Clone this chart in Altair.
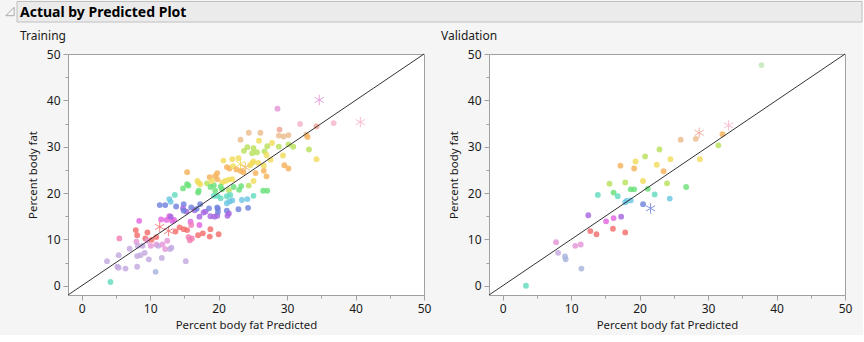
import altair as alt
import pandas as pd

FONT = "Segoe UI, Noto Sans, sans-serif"

# ---------------- data ----------------
GROUPS = ["red", "pink", "orchid", "magenta", "lavender", "grayblue", "purple", "blue",
          "cyan", "teal", "green", "yellowgreen", "yellow", "orange", "peach", "salmon",
          "lightpink", "palegreen"]
COLORS = ["#f46d6d", "#f27fb5", "#e496d8", "#e065e0", "#c3a9e0", "#a9b3dd", "#a666e0", "#6f82dc",
          "#6cc6e2", "#62dcc0", "#6ae07a", "#b8e05a", "#f0dc5a", "#f5b25a", "#ecbc8c", "#f1a295",
          "#f7b3cc", "#bfe8b5"]

train_pred = [4.2, 3.7, 5.4, 5.2, 5.4, 6.4, 5.5, 7.0, 8.1, 8.1, 8.6, 7.9, 8.1, 8.4, 8.0, 8.2, 8.9, 9.2,
              9.6, 9.8, 9.3, 9.6, 10.2, 10.1, 10.9, 11.2, 11.8, 10.9, 10.8, 11.7, 12.2, 12.9, 13.1, 12.5,
              11.6, 12.4, 12.8, 13.2, 13.5, 13.0, 13.7, 14.3, 14.9, 15.4, 15.2, 15.6, 15.8, 16.1, 15.9,
              16.0, 17.2, 17.2, 17.7, 17.0, 18.8, 18.7, 20.0, 11.4, 12.2, 12.8, 13.0, 13.6, 13.8, 14.9,
              14.8, 15.3, 14.9, 16.0, 16.5, 16.8, 17.3, 17.8, 18.1, 18.6, 19.3, 19.8, 14.8, 15.4, 15.6,
              17.0, 17.1, 19.8, 19.8, 15.4, 16.9, 17.3, 17.1, 18.7, 19.5, 19.8, 19.8, 18.3, 18.8, 19.3,
              19.0, 20.5, 19.5, 20.5, 21.0, 21.5, 22.0, 22.2, 23.3, 24.4, 20.3, 25.1, 26.5, 27.1, 23.0,
              21.5, 20.3, 21.2, 21.7, 21.2, 21.6, 22.0, 23.4, 24.2, 25.1, 19.9, 21.2, 22.9, 24.3, 19.9,
              18.8, 19.4, 21.3, 21.5, 23.2, 23.7, 24.2, 24.9, 25.1, 25.6, 26.7, 27.1, 25.9, 27.8, 28.8,
              30.2, 30.9, 33.2, 29.4, 27.0, 34.3, 27.6, 24.4, 26.1, 28.9, 28.8, 29.5, 30.2, 32.8, 33.0,
              28.6, 31.9, 34.3, 36.8, 20.7, 22.0, 22.9, 25.1, 25.8, 24.6, 24.9, 26.6, 29.6, 30.2, 21.2,
              21.6, 22.1, 22.6, 23.2, 23.6, 25.4, 26.6, 27.0]
train_act = [0.8, 5.3, 6.6, 4.1, 3.9, 3.7, 10.2, 8.0, 4.1, 6.4, 6.6, 12.0, 10.9, 14.0, 9.5, 8.6, 8.6, 7.1,
             11.5, 5.7, 10.2, 9.7, 9.9, 8.6, 8.9, 8.6, 8.9, 10.5, 3.0, 6.0, 7.9, 7.9, 8.2, 9.7,
             14.3, 14.2, 15.0, 14.0, 14.2, 14.9, 11.7, 12.6, 12.2, 12.0, 5.3, 10.5, 9.8, 10.2, 13.8,
             13.1, 14.9, 13.1, 11.3, 10.9, 12.2, 10.6, 11.1, 17.4, 17.4, 18.7, 18.1, 19.6, 17.1, 17.6,
             16.7, 16.0, 16.2, 16.9, 16.3, 16.6, 17.6, 15.8, 16.0, 16.7, 19.4, 19.4, 21.0, 21.9, 21.6,
             20.1, 20.5, 16.9, 15.1, 24.5, 22.6, 21.9, 22.2, 23.4, 23.7, 24.3, 23.0, 22.1, 21.3, 21.7,
             22.6, 20.8, 20.5, 22.3, 22.6, 22.9, 23.0, 21.3, 21.5, 21.6, 21.4, 22.6, 20.5, 20.5, 20.7,
             20.6, 18.9, 19.3, 19.6, 17.8, 18.2, 18.4, 18.5, 18.7, 19.4, 16.6, 16.2, 16.5, 16.8, 15.9,
             15.0, 14.9, 15.1, 15.6, 31.5, 29.1, 29.9, 28.6, 29.7, 28.8, 29.0, 30.1, 31.3, 30.8, 30.0,
             30.5, 30.0, 29.4, 28.1, 28.2, 27.3, 27.2, 33.0, 33.0, 33.7, 32.4, 32.2, 32.5, 32.6, 32.1,
             38.2, 34.9, 34.4, 35.1, 27.0, 27.3, 27.5, 26.8, 26.5, 26.0, 26.5, 25.9, 26.0, 25.3, 25.6,
             25.3, 25.8, 25.1, 24.8, 24.5, 24.3, 24.8, 23.6]
train_grp = ["teal", "lavender", "lavender", "lavender", "lavender", "lavender", "pink", "lavender",
             "lavender", "lavender", "lavender", "red", "red", "magenta", "orchid", "lavender", "lavender",
             "lavender", "red", "lavender", "red", "orchid", "red", "orchid", "orchid", "lavender", "orchid",
             "red", "grayblue", "lavender", "orchid", "lavender", "lavender", "orchid",
             "magenta", "magenta", "magenta", "magenta", "magenta", "purple", "red", "red", "red", "red",
             "lavender", "pink", "pink", "pink", "magenta", "pink", "purple", "magenta", "red", "red", "red",
             "red", "red", "blue", "blue", "cyan", "cyan", "teal", "blue", "blue",
             "purple", "purple", "blue", "blue", "purple", "blue", "blue", "purple", "purple", "blue", "teal",
             "teal", "green", "green", "green", "green", "green", "blue", "purple", "orange", "yellow",
             "yellow", "yellow", "orange", "orange", "orange", "orange", "yellowgreen", "green", "green",
             "yellow", "green", "green", "yellow", "yellow", "yellow", "yellow", "green", "green",
             "yellowgreen", "green", "yellow", "green", "green", "green",
             "yellowgreen", "teal", "teal", "teal", "cyan", "cyan", "cyan", "cyan", "cyan", "teal", "blue",
             "blue", "blue", "blue", "blue",
             "purple", "purple", "purple", "purple", "peach", "yellowgreen", "yellowgreen", "yellowgreen",
             "yellowgreen", "yellowgreen", "yellowgreen", "yellowgreen", "yellow", "yellow", "yellowgreen",
             "yellowgreen", "yellowgreen", "yellowgreen", "yellow", "yellow", "yellow", "yellow", "peach",
             "peach", "salmon", "peach", "peach", "peach", "peach", "orange",
             "orchid", "lightpink", "salmon", "lightpink", "yellow", "yellow", "yellow", "yellow", "yellow",
             "yellow", "yellow", "yellow", "orange", "orange", "orange",
             "orange", "yellow", "orange", "orange", "orange", "orange", "orange", "orange"]

train_star_pred = [11.4, 12.7, 23.2, 23.9, 34.7, 40.7]
train_star_act = [12.7, 11.8, 26.3, 25.5, 40.1, 35.3]
train_star_grp = ["red", "red", "yellow", "orange", "orchid", "lightpink"]

valid_pred = [3.4, 7.8, 8.1, 9.1, 9.2, 10.6, 11.4, 11.5, 12.5, 12.8, 13.7, 13.9, 15.1, 16.1, 16.2, 16.2,
              16.8, 17.3, 17.9, 17.9, 18.1, 18.7, 15.6, 17.9, 18.7, 19.2, 17.2, 19.2, 19.4, 37.8, 26.0,
              28.2, 32.1, 22.9, 31.5, 20.8, 22.5, 24.5, 28.8, 23.5, 20.5, 24.0, 26.8, 21.2, 22.2, 24.4,
              20.5]
valid_act = [0.0, 9.4, 7.1, 6.3, 5.7, 8.6, 8.9, 3.7, 15.2, 11.8, 11.1, 19.6, 13.9, 12.3, 14.6, 20.1,
             19.3, 14.9, 11.5, 18.0, 18.3, 18.4, 22.0, 22.3, 20.8, 20.8, 25.9, 25.3, 26.8, 47.6, 31.5,
             31.7, 32.7, 29.4, 30.3, 27.9, 26.1, 27.3, 27.3, 24.7, 22.6, 22.1, 21.3, 20.9, 19.7, 18.8,
             17.6]
valid_grp = ["teal", "orchid", "lavender", "grayblue", "grayblue", "orchid", "orchid", "grayblue", "purple",
             "red", "red", "teal", "magenta", "red", "magenta", "green", "teal", "purple", "red", "cyan",
             "cyan", "cyan", "yellowgreen", "yellowgreen", "green", "green", "orange", "orange", "yellow",
             "palegreen", "peach", "peach", "orange", "yellowgreen", "yellowgreen", "yellowgreen", "yellow",
             "yellow", "yellow", "orange", "yellow", "yellowgreen", "green", "green", "teal", "cyan", "blue"]

valid_star_pred = [28.7, 33.0, 21.6]
valid_star_act = [33.0, 34.6, 16.7]
valid_star_grp = ["salmon", "lightpink", "blue"]

AXIS_RANGE = [-2, 50]
TICK_VALUES = list(range(0, 51, 5))
HEADER = "Actual by Predicted Plot"
PANELS = ["Training", "Validation"]
X_TITLE = "Percent body fat Predicted"
Y_TITLE = "Percent body fat"

# ---------------- chart ----------------
ASTERISK = "M0,-1L0,1M-0.87,-0.5L0.87,0.5M-0.87,0.5L0.87,-0.5"
W, H = 356, 241

color_scale = alt.Scale(domain=GROUPS, range=COLORS)
xs = alt.Scale(domain=AXIS_RANGE, nice=False, zero=False)
ys = alt.Scale(domain=AXIS_RANGE, nice=False, zero=False)


def make_axis(title, pad):
    return alt.Axis(
        values=TICK_VALUES,
        labelExpr="datum.value % 10 === 0 ? datum.label : ''",
        tickSize={"condition": {"test": "datum.value % 10 === 0", "value": 5}, "value": 3},
        tickColor="#a0a0a0", tickWidth=1, domain=False, grid=False,
        labelFont=FONT, labelFontSize=12, labelColor="#1a1a1a", labelPadding=3,
        labelFlush=False,
        title=title, titleFont=FONT, titleFontSize=11.4, titleFontWeight="normal",
        titleColor="#1a1a1a", titlePadding=pad,
    )


def panel(px, py, pg, sx, sy, sg, title, extra=None):
    pts = pd.DataFrame({"x": px, "y": py, "g": pg})
    stars = pd.DataFrame({"x": sx, "y": sy, "g": sg})
    diag = pd.DataFrame({"x": AXIS_RANGE, "y": AXIS_RANGE})
    X = alt.X("x:Q", scale=xs, axis=make_axis(X_TITLE, 5))
    Y = alt.Y("y:Q", scale=ys, axis=make_axis(Y_TITLE, 8))
    circles = alt.Chart(pts).mark_circle(size=34, opacity=0.82).encode(
        x=X, y=Y, color=alt.Color("g:N", scale=color_scale, legend=None))
    star = alt.Chart(stars).mark_point(shape=ASTERISK, filled=False, size=110, strokeWidth=1,
                                       opacity=0.85).encode(
        x=X, y=Y, color=alt.Color("g:N", scale=color_scale, legend=None))
    line = alt.Chart(diag).mark_line(color="#333333", strokeWidth=1).encode(x=X, y=Y)
    ttl = alt.Chart(pd.DataFrame({"t": [title]})).mark_text(
        align="left", baseline="alphabetic", font=FONT, fontSize=12, color="#1a1a1a").encode(
        text="t:N", x=alt.value(-48), y=alt.value(-14))
    layers = [circles, star, line, ttl]
    if extra:
        layers = extra + layers
    return alt.layer(*layers).properties(width=W, height=H)


hdr_df = pd.DataFrame({"t": [HEADER]})
header_box = alt.Chart(hdr_df).mark_rect(fill="#ebebeb", stroke="#c0c0c0", strokeWidth=1).encode(
    x=alt.value(-51), x2=alt.value(794), y=alt.value(-52.5), y2=alt.value(-32))
header_text = alt.Chart(hdr_df).mark_text(
    align="left", baseline="alphabetic", font=FONT, fontSize=14, fontWeight="bold",
    color="#000000").encode(text="t:N", x=alt.value(-48), y=alt.value(-37))
triangle = alt.Chart(hdr_df).mark_point(
    shape="M1,-1L1,1L-1,1Z", filled=False, size=70, color="#8a8a8a", strokeWidth=1).encode(
    x=alt.value(-58), y=alt.value(-42.5))

left = panel(train_pred, train_act, train_grp, train_star_pred, train_star_act, train_star_grp,
             PANELS[0], extra=[header_box, header_text, triangle])
right = panel(valid_pred, valid_act, valid_grp, valid_star_pred, valid_star_act, valid_star_grp,
              PANELS[1])

chart = alt.hconcat(left, right, spacing=65, bounds="flush").properties(
    padding={"left": 3, "top": 0, "right": 0, "bottom": 4}
).configure(background="#f5f5f5").configure_view(stroke="#a0a0a0", strokeWidth=1, fill="white")

chart.save("out.html", embed_options={"renderer": "svg", "actions": False})
